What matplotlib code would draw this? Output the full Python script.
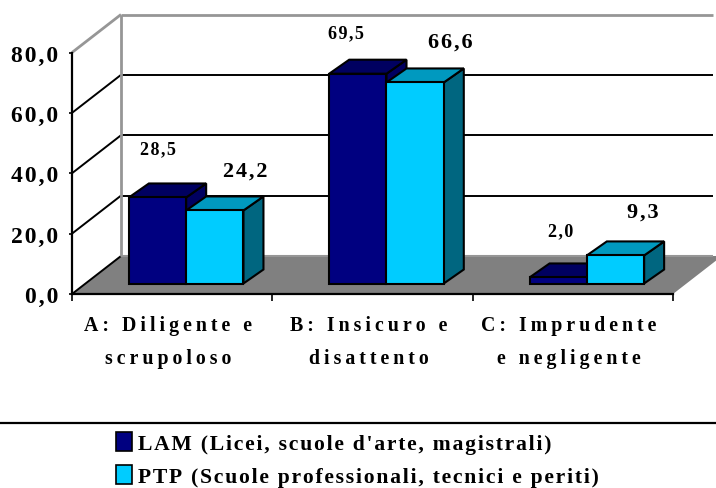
import matplotlib
matplotlib.use("Agg")
import matplotlib.pyplot as plt
from matplotlib.patches import Patch, Polygon

plt.rcParams['font.family'] = ['Liberation Serif', 'DejaVu Serif']
plt.rcParams['font.weight'] = 'bold'

categories = ["A: Diligente e\nscrupoloso", "B: Insicuro e\ndisattento", "C: Imprudente\ne negligente"]
lam = [28.5, 69.5, 2.0]
ptp = [24.2, 66.6, 9.3]
y_ticks = [0, 20, 40, 60, 80]
y_labels = ["0,0", "20,0", "40,0", "60,0", "80,0"]
series_names = ["LAM (Licei, scuole d'arte, magistrali)", "PTP (Scuole professionali, tecnici e periti)"]

W, H = 716, 489
LEFT, RIGHT, BASE, TOP = 72, 673, 295, 53.5
WALL_DX, WALL_DY = 49, 38
BAR_START = 0.214
BAR_W = 0.286

NAVY = ('#000080', '#000060', '#000060')
CYAN = ('#00CCFF', '#0099BF', '#006680')
THIN_SPACE = '\u2009'
HAIR_SPACE = '\u200a'


def spaced(text, gap=HAIR_SPACE):
    return '\n'.join(gap.join(line) for line in text.split('\n'))


fig = plt.figure(figsize=(W / 100, H / 100), dpi=100)
ax = fig.add_axes([LEFT / W, 1 - BASE / H, (RIGHT - LEFT) / W, (BASE - TOP) / H])
ax.set_xlim(0, 3)
ax.set_ylim(0, 80)
ax.patch.set_visible(False)

px_x = 3 / (RIGHT - LEFT)
px_y = 80 / (BASE - TOP)


def pt(x, y, dx=0, dy=0):
    # oblique projection, dx/dy are the depth offset in pixels
    return (x + dx * px_x, y + dy * px_y)


def poly(points, face, edge='none', lw=0.0, z=1):
    ax.add_patch(Polygon(points, closed=True, facecolor=face, edgecolor=edge, linewidth=lw,
                         clip_on=False, zorder=z, joinstyle='miter'))


def wall_line(x0, y0, x1, y1, color, lw, z=2):
    ax.plot([x0, x1], [y0, y1], color=color, lw=lw, clip_on=False, zorder=z, solid_capstyle='butt')


# floor
poly([pt(0, 0), pt(3, 0), pt(3, 0, WALL_DX, WALL_DY), pt(0, 0, WALL_DX, WALL_DY)], '#808080')

# walls and grid
for v in y_ticks:
    color = '#969696' if v == 80 else 'black'
    lw = 2.0 if v == 80 else 1.4
    x0, y0 = pt(0, v)
    x1, y1 = pt(0, v, WALL_DX, WALL_DY)
    wall_line(x0, y0, x1, y1, color, lw)
    if v == 0:
        wall_line(x1, y1, 3.2, y1, '#969696', 1.5)
    else:
        wall_line(x1, y1, 3.2, y1, color, lw)
x1, y1 = pt(0, 0, WALL_DX, WALL_DY)
x2, y2 = pt(0, 80, WALL_DX, WALL_DY)
wall_line(x1, y1, x2, y2, '#969696', 2.0)


def bar(i, offset, value, colors, z):
    x0 = i + BAR_START + offset
    x1 = x0 + BAR_W
    front_d = (14, 10.5)
    back_d = (34, 24.5)
    kw = dict(edge='black', lw=1.5, z=z)
    poly([pt(x1, 0, *front_d), pt(x1, 0, *back_d), pt(x1, value, *back_d), pt(x1, value, *front_d)], colors[2], **kw)
    poly([pt(x0, value, *front_d), pt(x1, value, *front_d), pt(x1, value, *back_d), pt(x0, value, *back_d)], colors[1], **kw)
    poly([pt(x0, 0, *front_d), pt(x1, 0, *front_d), pt(x1, value, *front_d), pt(x0, value, *front_d)], colors[0], **kw)


lam_label_dy = [48, 40, 46]
ptp_label_dy = [39, 40, 43]
lam_label_dx = [0, -12, 2]
ptp_label_dx = [30, 35, 27]
for i in range(3):
    bar(i, 0, lam[i], NAVY, 3 + i)
    bar(i, BAR_W, ptp[i], CYAN, 3 + i)
    ax.annotate(spaced(f"{lam[i]:.1f}".replace('.', ',')),
                xy=pt(i + BAR_START + BAR_W / 2, lam[i], 14, 11),
                xytext=(lam_label_dx[i] * 0.72, lam_label_dy[i] * 0.72),
                textcoords='offset points', ha='center', va='center', fontsize=13, annotation_clip=False, zorder=10)
    ax.annotate(spaced(f"{ptp[i]:.1f}".replace('.', ',')),
                xy=pt(i + BAR_START + BAR_W * 1.5, ptp[i], 14, 11),
                xytext=(ptp_label_dx[i] * 0.72, ptp_label_dy[i] * 0.72),
                textcoords='offset points', ha='center', va='center', fontsize=16, annotation_clip=False, zorder=10)
    ax.annotate(spaced(categories[i], THIN_SPACE), xy=(i + 0.5, 0), xytext=(-4 * 0.72, -47.5 * 0.72),
                textcoords='offset points', ha='center', va='center', fontsize=14.3, linespacing=1.9,
                annotation_clip=False)

# axes
for side in ['top', 'right']:
    ax.spines[side].set_visible(False)
for side in ['left', 'bottom']:
    ax.spines[side].set_linewidth(1.6)
ax.set_xticks([0, 1, 2, 3])
ax.set_xticklabels([])
ax.set_yticks(y_ticks)
ax.set_yticklabels([spaced(s) for s in y_labels], fontsize=17)
ax.tick_params(axis='y', length=2, width=1.2, pad=8)
ax.tick_params(axis='x', length=5, width=1.2)

# legend separator
fig.add_artist(plt.Line2D([0, 1], [1 - 424 / H, 1 - 424 / H], color='black', lw=1.6))

handles = [Patch(facecolor=NAVY[0], edgecolor='black', lw=1.2), Patch(facecolor=CYAN[0], edgecolor='black', lw=1.2)]
fig.legend(handles, [spaced(s) for s in series_names], loc='upper left', bbox_to_anchor=(112 / W, 1 - 429 / H),
           frameon=False, prop={'family': 'Liberation Serif', 'weight': 'bold', 'size': 15.6}, handlelength=0.74,
           handleheight=0.95, handletextpad=0.27, labelspacing=0.5, borderpad=0.2, borderaxespad=0)

fig.savefig('out.png', dpi=100)
